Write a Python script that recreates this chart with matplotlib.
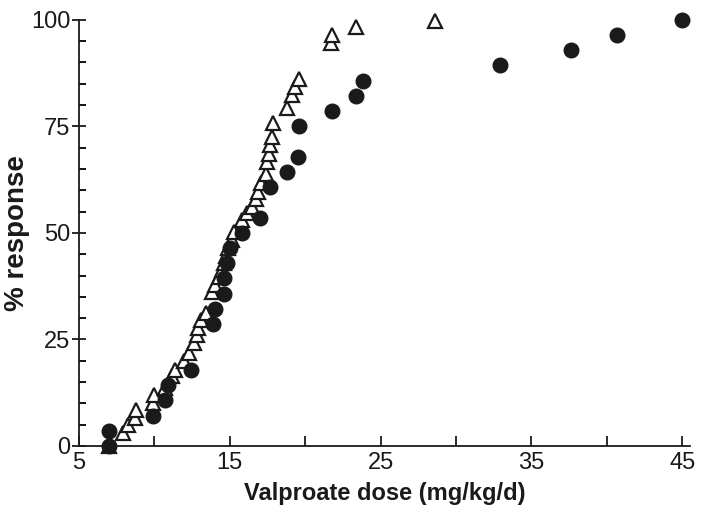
import matplotlib
matplotlib.use("Agg")
import matplotlib.pyplot as plt
from matplotlib.ticker import MultipleLocator

plt.rcParams['font.family'] = ['Liberation Sans Narrow', 'Liberation Sans', 'DejaVu Sans']

# filled circles
circ_dose = [7.0, 7.0, 9.9, 10.7, 10.9, 12.4, 13.9, 14.0, 14.6, 14.6, 14.8, 15.0,
             15.8, 17.0, 17.7, 18.8, 19.5, 19.6, 21.8, 23.4, 23.8, 32.9, 37.6, 40.7, 45.0]
circ_resp = [0.0, 3.6, 7.1, 10.7, 14.3, 17.9, 28.6, 32.1, 35.7, 39.3, 42.9, 46.4,
             50.0, 53.6, 60.7, 64.3, 67.9, 75.0, 78.6, 82.1, 85.7, 89.3, 92.9, 96.4, 100.0]

# open triangles
tri_dose = [7.0, 7.9, 8.25, 8.7, 8.8, 9.9, 10.0, 10.7, 11.2, 11.4, 12.0, 12.3, 12.6,
            12.8, 12.9, 13.1, 13.4, 13.8, 14.0, 14.3, 14.5, 14.6, 14.75, 14.9, 15.15,
            15.3, 15.8, 16.15, 16.5, 16.75, 16.9, 17.1, 17.4, 17.5, 17.6, 17.7, 17.8,
            17.9, 18.8, 19.1, 19.3, 19.6, 21.7, 21.8, 23.4, 28.6]
tri_resp = [0.0, 3.1, 4.9, 6.6, 8.5, 10.1, 12.0, 13.6, 16.4, 17.8, 20.0, 21.8, 24.2,
            26.1, 27.7, 29.6, 31.2, 36.2, 37.8, 39.7, 41.3, 43.0, 44.6, 46.5, 48.4,
            50.2, 53.1, 54.7, 56.1, 58.0, 59.6, 61.7, 63.8, 66.7, 68.5, 70.7, 72.5,
            75.8, 79.3, 82.4, 84.3, 86.2, 94.6, 96.5, 98.4, 99.8]

fig = plt.figure(figsize=(7.04, 5.21), dpi=100)
ax = fig.add_axes([0.112, 0.144, 0.868, 0.818])

ax.plot(tri_dose, tri_resp, linestyle="none", marker="^", markersize=10,
        markerfacecolor="white", markeredgecolor="#1a1a1a", markeredgewidth=1.6,
        clip_on=False, zorder=3)
ax.plot(circ_dose, circ_resp, linestyle="none", marker="o", markersize=10.5,
        markerfacecolor="#1a1a1a", markeredgecolor="#1a1a1a",
        clip_on=False, zorder=4)

ax.set_xlim(5, 45.5)
ax.set_ylim(0, 100)
ax.set_xticks([5, 15, 25, 35, 45])
ax.xaxis.set_minor_locator(MultipleLocator(5))
ax.set_yticks([0, 25, 50, 75, 100])
ax.yaxis.set_minor_locator(MultipleLocator(5))

for s in ["top", "right"]:
    ax.spines[s].set_visible(False)
for s in ["left", "bottom"]:
    ax.spines[s].set_linewidth(1.3)
    ax.spines[s].set_color("#1a1a1a")

ax.tick_params(axis="x", which="both", direction="in", length=7, width=1.3,
               labelsize=17, pad=4, colors="#1a1a1a")
ax.tick_params(axis="y", which="major", direction="inout", length=10, width=1.3,
               labelsize=17, pad=1, colors="#1a1a1a")
ax.tick_params(axis="y", which="minor", direction="in", length=5, width=1.3)

ax.set_xlabel("Valproate dose (mg/kg/d)", fontsize=17, fontweight="bold",
              labelpad=6, color="#1a1a1a")
ax.set_ylabel("% response", fontsize=20, fontweight="bold",
              labelpad=1, color="#1a1a1a")

fig.savefig("out.png", dpi=100)
